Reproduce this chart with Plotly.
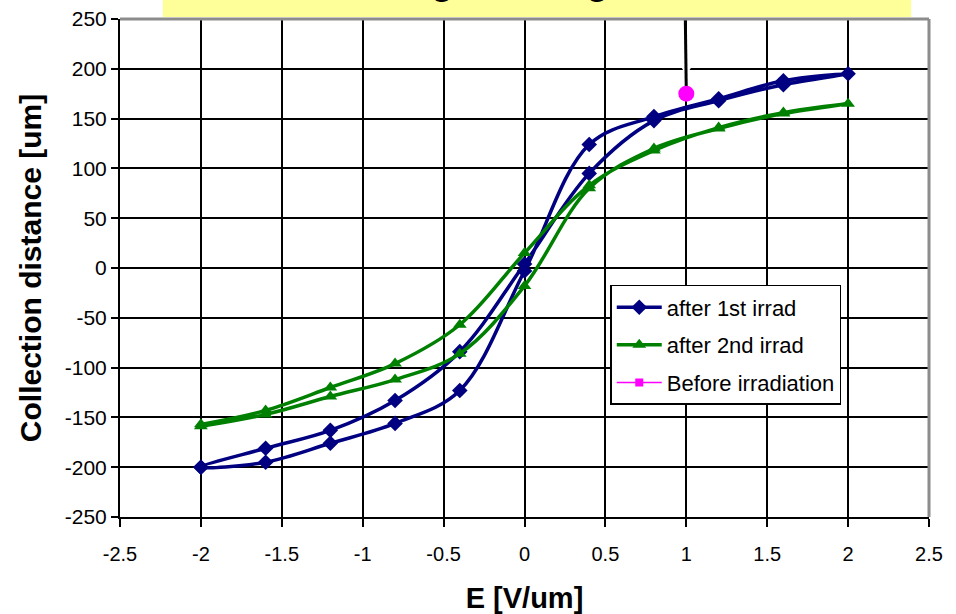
import plotly.graph_objects as go

# Field sweep: up from -2 V/um to +2 V/um, then back down
E_up = [-2.0, -1.6, -1.2, -0.8, -0.4, 0.0, 0.4, 0.8, 1.2, 1.6, 2.0]
E_down = [1.6, 1.2, 0.8, 0.4, 0.0, -0.4, -0.8, -1.2, -1.6, -2.0]

# Collection distance [um] after the first irradiation
cd1_up = [-200, -195, -176, -156, -123, -3, 124, 152, 170, 188, 195]
cd1_down = [184, 168, 148, 95, 4, -84, -133, -163, -181, -200]

# Collection distance [um] after the second irradiation
cd2_up = [-157, -143, -120, -96, -57, 15, 83, 118, 141, 156, 165]
cd2_down = [155, 140, 120, 80, -18, -86, -112, -129, -147, -159]

# Reference value before irradiation
E_before = [1.0]
cd_before = [175]

x_ticks = [-2.5, -2.0, -1.5, -1.0, -0.5, 0.0, 0.5, 1.0, 1.5, 2.0, 2.5]
x_labels = ["-2.5", "-2", "-1.5", "-1", "-0.5", "0", "0.5", "1", "1.5", "2", "2.5"]
y_ticks = [-250, -200, -150, -100, -50, 0, 50, 100, 150, 200, 250]
y_labels = ["-250", "-200", "-150", "-100", "-50", "0", "50", "100", "150", "200", "250"]

NAVY = "#000080"
GREEN = "#008000"
MAGENTA = "#FF00FF"
FONT = "Liberation Sans, Arial, sans-serif"

fig = go.Figure()

fig.add_trace(go.Scatter(
    x=E_up + E_down, y=cd1_up + cd1_down,
    mode="lines+markers", name="after 1st irrad", legendgroup="a",
    line=dict(color=NAVY, width=3.5, shape="spline", smoothing=1.0),
    marker=dict(symbol="diamond", size=12, color=NAVY),
))
fig.add_trace(go.Scatter(
    x=E_up + E_down, y=cd2_up + cd2_down,
    mode="lines+markers", name="after 2nd irrad", legendgroup="b",
    line=dict(color=GREEN, width=3.5, shape="spline", smoothing=1.0),
    marker=dict(symbol="triangle-up", size=12, color=GREEN),
))
# legend entry for the pre-irradiation value
fig.add_trace(go.Scatter(
    x=[None], y=[None],
    mode="lines+markers", name="Before irradiation", legendgroup="c",
    line=dict(color=MAGENTA, width=1.5),
    marker=dict(symbol="square", size=8, color=MAGENTA),
))
fig.add_trace(go.Scatter(
    x=E_before, y=cd_before,
    mode="markers", showlegend=False,
    marker=dict(symbol="circle", size=16, color=MAGENTA),
))

axis_common = dict(
    showgrid=True, gridcolor="black", gridwidth=2,
    zeroline=False, automargin=False,
    showline=True, linecolor="black", linewidth=2,
    ticks="outside", tickcolor="black", tickwidth=2,
)

fig.update_xaxes(
    range=[-2.5, 2.5], tickvals=x_ticks, ticktext=x_labels,
    ticklen=8, ticklabelstandoff=10,
    tickfont=dict(family=FONT, size=20, color="black"),
    title=dict(text="<b>E [V/um]</b>", font=dict(family=FONT, size=29, color="black"), standoff=32),
    **axis_common,
)
fig.update_yaxes(
    range=[-250, 250], tickvals=y_ticks, ticktext=y_labels,
    ticklen=7,
    tickfont=dict(family=FONT, size=21, color="black"),
    title=dict(text="<b>Collection distance [um]</b>", font=dict(family=FONT, size=30, color="black"), standoff=14),
    **axis_common,
)

shapes = [
    # banner at the top of the slide
    dict(type="rect", xref="paper", yref="paper", x0=0.053, x1=0.978, y0=1.004, y1=1.045,
         fillcolor="#FFFF99", line=dict(width=0), layer="above"),
    # grey frame on top and right
    dict(type="line", xref="paper", yref="paper", x0=0, x1=1, y0=1, y1=1,
         line=dict(color="#8c8c8c", width=3), layer="above"),
    dict(type="line", xref="paper", yref="paper", x0=1, x1=1, y0=0, y1=1,
         line=dict(color="#8c8c8c", width=3), layer="above"),
    # callout pointer to the pre-irradiation point
    dict(type="path", xref="x", yref="y",
         path=f"M {E_before[0]-0.05},206 L {E_before[0]+0.05},206 L {E_before[0]},194 Z",
         fillcolor="white", line=dict(width=0), layer="between"),
    dict(type="line", xref="x", yref="y", x0=E_before[0] - 0.006, x1=E_before[0], y0=250, y1=cd_before[0],
         line=dict(color="black", width=3), layer="between"),
]

fig.update_layout(
    width=956, height=614,
    margin=dict(l=120, r=27, t=19, b=97),
    paper_bgcolor="white", plot_bgcolor="white",
    font=dict(family=FONT, color="black"),
    shapes=shapes,
    legend=dict(
        x=0.606, y=0.466, xanchor="left", yanchor="top",
        bgcolor="white", bordercolor="black", borderwidth=1.5,
        font=dict(family=FONT, size=22, color="black"),
        tracegroupgap=6, itemwidth=45,
    ),
    annotations=[
        dict(text="Charge storage effect", xref="paper", yref="paper",
             x=0.523, y=1.031, xanchor="center", yanchor="bottom",
             showarrow=False, font=dict(family=FONT, size=43, color="black")),
    ],
)

fig.write_html("out.html")
